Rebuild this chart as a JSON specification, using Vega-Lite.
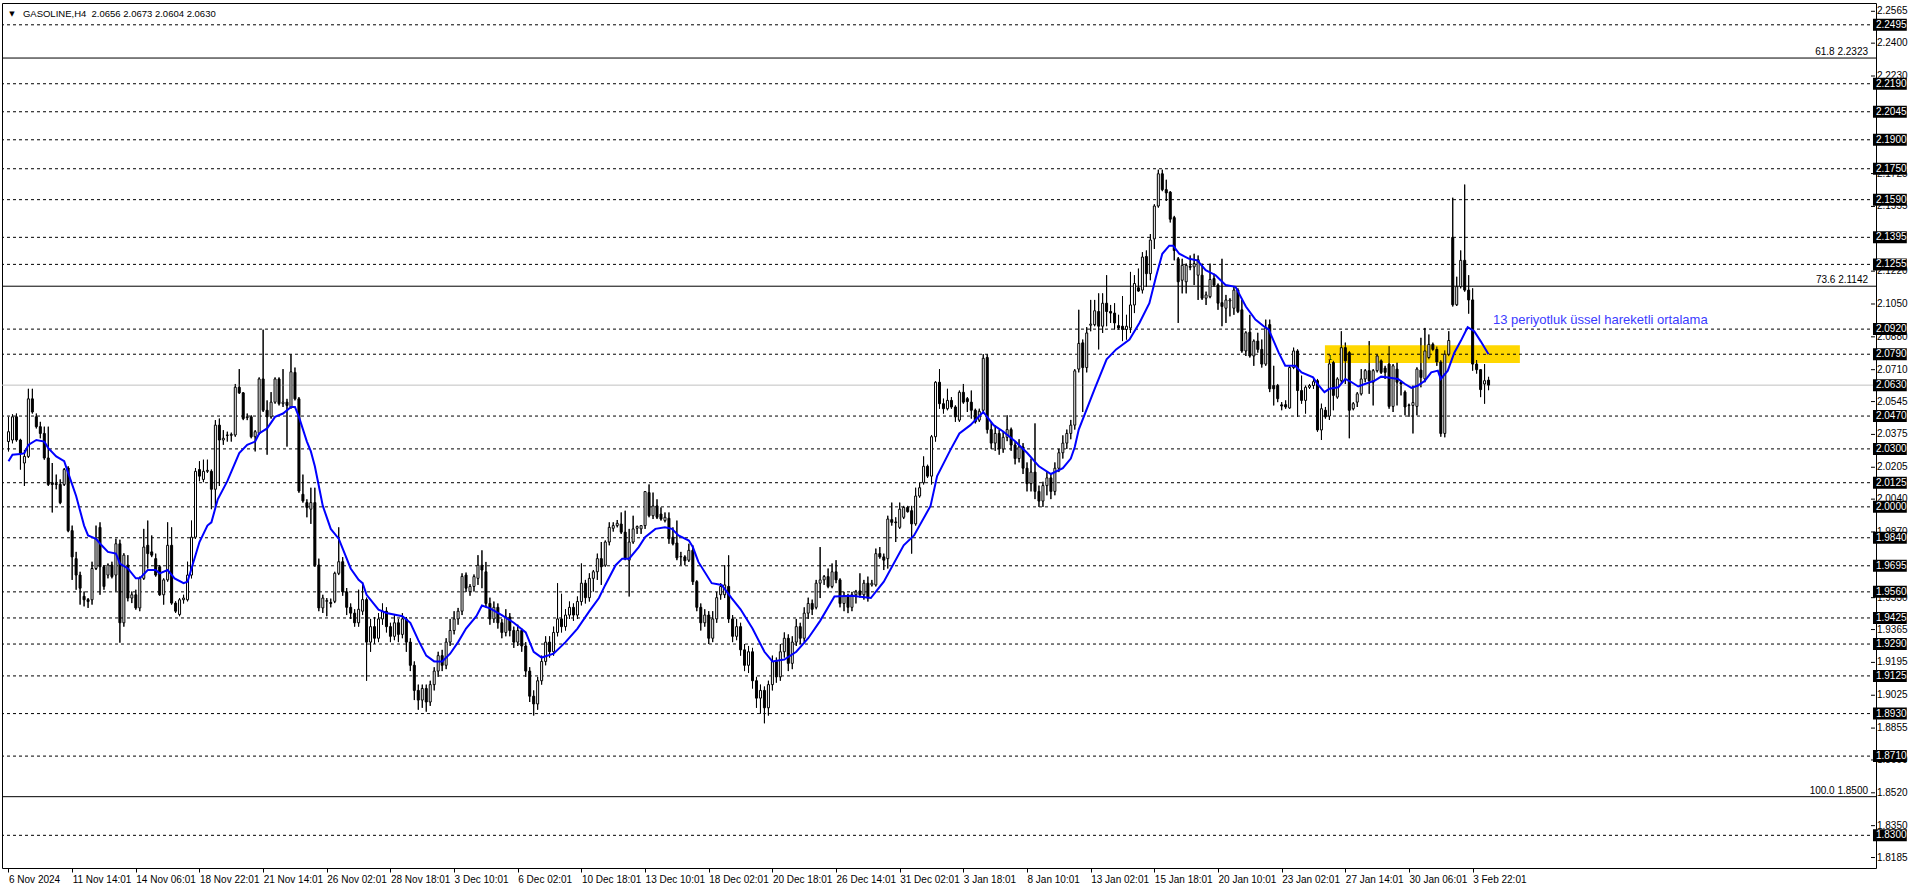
{
"$schema":"https://vega.github.io/schema/vega-lite/v6.json",
"width":1874,"height":865,
"autosize":{"type":"none"},
"padding":{"left":2,"top":3,"right":40,"bottom":20},
"background":"white",
"config":{"view":{"stroke":"black","strokeWidth":1},"font":"Liberation Sans"},
"datasets":{
"bars":[
{"i":0,"o":2.0338,"h":2.0466,"l":2.0287,"c":2.0389},{"i":1,"o":2.0346,"h":2.0479,"l":2.0329,"c":2.0466},{"i":2,"o":2.0466,"h":2.0483,"l":2.0338,"c":2.0346},{"i":3,"o":2.0346,"h":2.0352,"l":2.0193,"c":2.0278},{"i":4,"o":2.0227,"h":2.0295,"l":2.0108,"c":2.0261},{"i":5,"o":2.0261,"h":2.0611,"l":2.0253,"c":2.0559},{"i":6,"o":2.0559,"h":2.0611,"l":2.0483,"c":2.0491},{"i":7,"o":2.0466,"h":2.0483,"l":2.0406,"c":2.0415},{"i":8,"o":2.0415,"h":2.044,"l":2.0355,"c":2.038},{"i":9,"o":2.038,"h":2.0415,"l":2.0244,"c":2.0253},
{"i":10,"o":2.0253,"h":2.0415,"l":2.0108,"c":2.0116},{"i":11,"o":2.0125,"h":2.0227,"l":1.9971,"c":2.0116},{"i":12,"o":2.012,"h":2.0167,"l":2.0091,"c":2.0116},{"i":13,"o":2.0116,"h":2.0142,"l":2.0014,"c":2.0022},{"i":14,"o":2.0116,"h":2.0201,"l":2.0108,"c":2.0193},{"i":15,"o":2.0201,"h":2.021,"l":1.9869,"c":1.9877},{"i":16,"o":1.9877,"h":1.9903,"l":1.9622,"c":1.9741},{"i":17,"o":1.9732,"h":1.9767,"l":1.9571,"c":1.9647},{"i":18,"o":1.9647,"h":1.9664,"l":1.9494,"c":1.9579},{"i":19,"o":1.9537,"h":1.9562,"l":1.9485,"c":1.9519},
{"i":20,"o":1.952,"h":1.9528,"l":1.9477,"c":1.951},{"i":21,"o":1.9519,"h":1.9716,"l":1.9494,"c":1.9681},{"i":22,"o":1.9681,"h":1.9903,"l":1.9673,"c":1.9835},{"i":23,"o":1.9894,"h":1.992,"l":1.9545,"c":1.969},{"i":24,"o":1.969,"h":1.9699,"l":1.9571,"c":1.9588},{"i":25,"o":1.9647,"h":1.9707,"l":1.963,"c":1.9699},{"i":26,"o":1.9699,"h":1.9716,"l":1.963,"c":1.9639},{"i":27,"o":1.9647,"h":1.9835,"l":1.9562,"c":1.9809},{"i":28,"o":1.9809,"h":1.983,"l":1.9297,"c":1.94},{"i":29,"o":1.94,"h":1.976,"l":1.938,"c":1.975},
{"i":30,"o":1.9699,"h":1.975,"l":1.9511,"c":1.9528},{"i":31,"o":1.9528,"h":1.9562,"l":1.9502,"c":1.9545},{"i":32,"o":1.9545,"h":1.9571,"l":1.9468,"c":1.9477},{"i":33,"o":1.9477,"h":1.9639,"l":1.946,"c":1.963},{"i":34,"o":1.963,"h":1.9886,"l":1.9622,"c":1.9792},{"i":35,"o":1.9801,"h":1.9929,"l":1.9681,"c":1.9758},{"i":36,"o":1.9767,"h":1.9852,"l":1.974,"c":1.975},{"i":37,"o":1.9732,"h":1.9758,"l":1.9639,"c":1.9647},{"i":38,"o":1.969,"h":1.9699,"l":1.954,"c":1.9545},{"i":39,"o":1.9545,"h":1.963,"l":1.9494,"c":1.9622},
{"i":40,"o":1.9622,"h":1.992,"l":1.9613,"c":1.9801},{"i":41,"o":1.9801,"h":1.9894,"l":1.9494,"c":1.9502},{"i":42,"o":1.9502,"h":1.9511,"l":1.9451,"c":1.946},{"i":43,"o":1.9443,"h":1.9528,"l":1.9434,"c":1.9519},{"i":44,"o":1.9519,"h":1.9545,"l":1.95,"c":1.9528},{"i":45,"o":1.9519,"h":1.9716,"l":1.9511,"c":1.9647},{"i":46,"o":1.9647,"h":1.9929,"l":1.963,"c":1.9843},{"i":47,"o":1.9843,"h":2.0201,"l":1.9835,"c":2.0184},{"i":48,"o":2.0193,"h":2.0236,"l":2.0133,"c":2.0159},{"i":49,"o":2.0142,"h":2.0244,"l":2.0128,"c":2.0184},
{"i":50,"o":2.0184,"h":2.0244,"l":2.0176,"c":2.0189},{"i":51,"o":2.0184,"h":2.0193,"l":1.9988,"c":2.0091},{"i":52,"o":2.0091,"h":2.0449,"l":1.9997,"c":2.0423},{"i":53,"o":2.0423,"h":2.0457,"l":2.0108,"c":2.0346},{"i":54,"o":2.0346,"h":2.0397,"l":2.0321,"c":2.0355},{"i":55,"o":2.0372,"h":2.0389,"l":2.0338,"c":2.037},{"i":56,"o":2.037,"h":2.0384,"l":2.0338,"c":2.0375},{"i":57,"o":2.0372,"h":2.0636,"l":2.0363,"c":2.0619},{"i":58,"o":2.0619,"h":2.0713,"l":2.0585,"c":2.059},{"i":59,"o":2.059,"h":2.0594,"l":2.0449,"c":2.0457},
{"i":60,"o":2.0462,"h":2.0483,"l":2.0449,"c":2.0466},{"i":61,"o":2.0466,"h":2.0474,"l":2.0355,"c":2.0363},{"i":62,"o":2.0363,"h":2.0397,"l":2.0287,"c":2.0389},{"i":63,"o":2.038,"h":2.067,"l":2.0372,"c":2.0662},{"i":64,"o":2.0662,"h":2.0917,"l":2.0491,"c":2.05},{"i":65,"o":2.05,"h":2.0551,"l":2.027,"c":2.0466},{"i":66,"o":2.0466,"h":2.0594,"l":2.0457,"c":2.0542},{"i":67,"o":2.0542,"h":2.067,"l":2.0534,"c":2.0662},{"i":68,"o":2.0662,"h":2.067,"l":2.0525,"c":2.0534},{"i":69,"o":2.0534,"h":2.0713,"l":2.0517,"c":2.0542},
{"i":70,"o":2.0542,"h":2.0559,"l":2.0312,"c":2.0525},{"i":71,"o":2.0517,"h":2.079,"l":2.0508,"c":2.0699},{"i":72,"o":2.0696,"h":2.0721,"l":2.0551,"c":2.0559},{"i":73,"o":2.0559,"h":2.0568,"l":2.0073,"c":2.0082},{"i":74,"o":2.0065,"h":2.0167,"l":2.0022,"c":2.0031},{"i":75,"o":2.0022,"h":2.0039,"l":1.9946,"c":1.9997},{"i":76,"o":1.9988,"h":2.0099,"l":1.9912,"c":2.0022},{"i":77,"o":2.0022,"h":2.0099,"l":1.969,"c":1.9699},{"i":78,"o":1.9699,"h":1.9732,"l":1.946,"c":1.9477},{"i":79,"o":1.9477,"h":1.9545,"l":1.9451,"c":1.9528},
{"i":80,"o":1.9511,"h":1.9528,"l":1.9434,"c":1.9515},{"i":81,"o":1.9505,"h":1.9525,"l":1.948,"c":1.95},{"i":82,"o":1.9511,"h":1.9664,"l":1.9502,"c":1.9656},{"i":83,"o":1.9656,"h":1.9894,"l":1.9647,"c":1.9716},{"i":84,"o":1.9716,"h":1.974,"l":1.954,"c":1.956},{"i":85,"o":1.956,"h":1.958,"l":1.944,"c":1.948},{"i":86,"o":1.948,"h":1.95,"l":1.942,"c":1.945},{"i":87,"o":1.945,"h":1.947,"l":1.938,"c":1.94},{"i":88,"o":1.94,"h":1.9571,"l":1.938,"c":1.947},{"i":89,"o":1.946,"h":1.961,"l":1.944,"c":1.952},
{"i":90,"o":1.952,"h":1.953,"l":1.91,"c":1.93},{"i":91,"o":1.93,"h":1.942,"l":1.925,"c":1.938},{"i":92,"o":1.938,"h":1.943,"l":1.929,"c":1.932},{"i":93,"o":1.932,"h":1.945,"l":1.93,"c":1.942},{"i":94,"o":1.942,"h":1.95,"l":1.939,"c":1.946},{"i":95,"o":1.946,"h":1.948,"l":1.935,"c":1.938},{"i":96,"o":1.938,"h":1.94,"l":1.93,"c":1.933},{"i":97,"o":1.933,"h":1.944,"l":1.931,"c":1.94},{"i":98,"o":1.94,"h":1.942,"l":1.93,"c":1.934},{"i":99,"o":1.934,"h":1.945,"l":1.932,"c":1.942},
{"i":100,"o":1.942,"h":1.943,"l":1.925,"c":1.93},{"i":101,"o":1.93,"h":1.932,"l":1.915,"c":1.918},{"i":102,"o":1.918,"h":1.92,"l":1.9,"c":1.905},{"i":103,"o":1.905,"h":1.908,"l":1.895,"c":1.9},{"i":104,"o":1.9,"h":1.908,"l":1.896,"c":1.906},{"i":105,"o":1.906,"h":1.908,"l":1.894,"c":1.899},{"i":106,"o":1.899,"h":1.91,"l":1.897,"c":1.908},{"i":107,"o":1.908,"h":1.917,"l":1.905,"c":1.915},{"i":108,"o":1.915,"h":1.925,"l":1.912,"c":1.923},{"i":109,"o":1.923,"h":1.926,"l":1.915,"c":1.918},
{"i":110,"o":1.918,"h":1.932,"l":1.916,"c":1.93},{"i":111,"o":1.93,"h":1.942,"l":1.928,"c":1.936},{"i":112,"o":1.936,"h":1.946,"l":1.934,"c":1.942},{"i":113,"o":1.942,"h":1.9477,"l":1.939,"c":1.946},{"i":114,"o":1.946,"h":1.9656,"l":1.944,"c":1.964},{"i":115,"o":1.9647,"h":1.966,"l":1.956,"c":1.9579},{"i":116,"o":1.9562,"h":1.96,"l":1.954,"c":1.9588},{"i":117,"o":1.9588,"h":1.965,"l":1.9562,"c":1.9639},{"i":118,"o":1.963,"h":1.975,"l":1.9596,"c":1.9698},{"i":119,"o":1.9698,"h":1.9775,"l":1.9579,"c":1.9673},
{"i":120,"o":1.9664,"h":1.9715,"l":1.948,"c":1.95},{"i":121,"o":1.95,"h":1.953,"l":1.939,"c":1.942},{"i":122,"o":1.942,"h":1.951,"l":1.94,"c":1.948},{"i":123,"o":1.948,"h":1.95,"l":1.937,"c":1.94},{"i":124,"o":1.94,"h":1.942,"l":1.932,"c":1.935},{"i":125,"o":1.935,"h":1.947,"l":1.933,"c":1.943},{"i":126,"o":1.943,"h":1.945,"l":1.933,"c":1.936},{"i":127,"o":1.936,"h":1.938,"l":1.927,"c":1.93},{"i":128,"o":1.93,"h":1.939,"l":1.928,"c":1.936},{"i":129,"o":1.936,"h":1.937,"l":1.925,"c":1.928},
{"i":130,"o":1.928,"h":1.93,"l":1.912,"c":1.915},{"i":131,"o":1.915,"h":1.917,"l":1.899,"c":1.902},{"i":132,"o":1.902,"h":1.905,"l":1.892,"c":1.898},{"i":133,"o":1.898,"h":1.912,"l":1.895,"c":1.91},{"i":134,"o":1.91,"h":1.923,"l":1.908,"c":1.92},{"i":135,"o":1.92,"h":1.933,"l":1.918,"c":1.93},{"i":136,"o":1.93,"h":1.933,"l":1.922,"c":1.925},{"i":137,"o":1.925,"h":1.938,"l":1.923,"c":1.935},{"i":138,"o":1.935,"h":1.9605,"l":1.933,"c":1.942},{"i":139,"o":1.942,"h":1.955,"l":1.935,"c":1.938},
{"i":140,"o":1.938,"h":1.947,"l":1.936,"c":1.944},{"i":141,"o":1.944,"h":1.951,"l":1.942,"c":1.948},{"i":142,"o":1.948,"h":1.95,"l":1.941,"c":1.944},{"i":143,"o":1.944,"h":1.9536,"l":1.942,"c":1.951},{"i":144,"o":1.951,"h":1.9707,"l":1.949,"c":1.9605},{"i":145,"o":1.9605,"h":1.9622,"l":1.95,"c":1.953},{"i":146,"o":1.953,"h":1.9656,"l":1.951,"c":1.963},{"i":147,"o":1.963,"h":1.9673,"l":1.9562,"c":1.9664},{"i":148,"o":1.9664,"h":1.9758,"l":1.9622,"c":1.9732},{"i":149,"o":1.9732,"h":1.9818,"l":1.9596,"c":1.969},
{"i":150,"o":1.9698,"h":1.9826,"l":1.969,"c":1.9818},{"i":151,"o":1.9818,"h":1.992,"l":1.9801,"c":1.9894},{"i":152,"o":1.9889,"h":1.992,"l":1.9872,"c":1.9903},{"i":153,"o":1.9903,"h":1.9932,"l":1.9894,"c":1.9915},{"i":154,"o":1.9911,"h":1.9971,"l":1.986,"c":1.9869},{"i":155,"o":1.9869,"h":1.998,"l":1.9724,"c":1.9732},{"i":156,"o":1.9724,"h":1.9886,"l":1.9536,"c":1.9818},{"i":157,"o":1.9818,"h":1.9954,"l":1.9809,"c":1.9886},{"i":158,"o":1.9889,"h":1.9903,"l":1.986,"c":1.9898},{"i":159,"o":1.9886,"h":1.9903,"l":1.986,"c":1.9903},
{"i":160,"o":1.9903,"h":2.0082,"l":1.9886,"c":2.0079},{"i":161,"o":2.0074,"h":2.0116,"l":1.9946,"c":1.9954},{"i":162,"o":1.9954,"h":2.0074,"l":1.9937,"c":2.0005},{"i":163,"o":2.0005,"h":2.0039,"l":1.9937,"c":1.9946},{"i":164,"o":1.9963,"h":1.9997,"l":1.9929,"c":1.9937},{"i":165,"o":1.9929,"h":1.9971,"l":1.992,"c":1.9946},{"i":166,"o":1.9941,"h":1.9971,"l":1.9809,"c":1.9835},{"i":167,"o":1.9843,"h":1.9894,"l":1.9801,"c":1.9809},{"i":168,"o":1.9813,"h":1.9929,"l":1.9724,"c":1.9736},{"i":169,"o":1.9741,"h":1.9767,"l":1.9698,"c":1.9743},
{"i":170,"o":1.9741,"h":1.9749,"l":1.9698,"c":1.9721},{"i":171,"o":1.9724,"h":1.9809,"l":1.9715,"c":1.9775},{"i":172,"o":1.9775,"h":1.9801,"l":1.9596,"c":1.9613},{"i":173,"o":1.9613,"h":1.962,"l":1.946,"c":1.948},{"i":174,"o":1.948,"h":1.95,"l":1.936,"c":1.94},{"i":175,"o":1.94,"h":1.947,"l":1.938,"c":1.944},{"i":176,"o":1.944,"h":1.946,"l":1.929,"c":1.932},{"i":177,"o":1.932,"h":1.946,"l":1.93,"c":1.942},{"i":178,"o":1.942,"h":1.956,"l":1.94,"c":1.953},{"i":179,"o":1.9545,"h":1.9605,"l":1.952,"c":1.9588},
{"i":180,"o":1.9545,"h":1.9698,"l":1.9528,"c":1.9596},{"i":181,"o":1.9588,"h":1.9749,"l":1.94,"c":1.942},{"i":182,"o":1.942,"h":1.944,"l":1.93,"c":1.933},{"i":183,"o":1.933,"h":1.942,"l":1.931,"c":1.938},{"i":184,"o":1.938,"h":1.94,"l":1.923,"c":1.926},{"i":185,"o":1.926,"h":1.929,"l":1.915,"c":1.918},{"i":186,"o":1.918,"h":1.928,"l":1.914,"c":1.925},{"i":187,"o":1.925,"h":1.927,"l":1.906,"c":1.91},{"i":188,"o":1.91,"h":1.912,"l":1.896,"c":1.901},{"i":189,"o":1.901,"h":1.908,"l":1.893,"c":1.905},
{"i":190,"o":1.905,"h":1.907,"l":1.888,"c":1.896},{"i":191,"o":1.896,"h":1.91,"l":1.892,"c":1.908},{"i":192,"o":1.908,"h":1.923,"l":1.905,"c":1.92},{"i":193,"o":1.92,"h":1.922,"l":1.909,"c":1.912},{"i":194,"o":1.912,"h":1.929,"l":1.91,"c":1.925},{"i":195,"o":1.925,"h":1.935,"l":1.922,"c":1.932},{"i":196,"o":1.932,"h":1.934,"l":1.915,"c":1.919},{"i":197,"o":1.919,"h":1.933,"l":1.916,"c":1.93},{"i":198,"o":1.93,"h":1.942,"l":1.928,"c":1.938},{"i":199,"o":1.938,"h":1.94,"l":1.929,"c":1.932},
{"i":200,"o":1.932,"h":1.948,"l":1.93,"c":1.945},{"i":201,"o":1.945,"h":1.953,"l":1.942,"c":1.95},{"i":202,"o":1.95,"h":1.952,"l":1.944,"c":1.947},{"i":203,"o":1.948,"h":1.9622,"l":1.947,"c":1.9605},{"i":204,"o":1.9605,"h":1.9792,"l":1.9528,"c":1.9622},{"i":205,"o":1.9622,"h":1.9647,"l":1.9596,"c":1.9639},{"i":206,"o":1.9639,"h":1.9681,"l":1.9579,"c":1.9588},{"i":207,"o":1.9588,"h":1.9707,"l":1.9579,"c":1.9664},{"i":208,"o":1.9664,"h":1.9724,"l":1.9605,"c":1.9622},{"i":209,"o":1.9622,"h":1.963,"l":1.948,"c":1.95},
{"i":210,"o":1.95,"h":1.956,"l":1.946,"c":1.954},{"i":211,"o":1.954,"h":1.955,"l":1.945,"c":1.948},{"i":212,"o":1.948,"h":1.956,"l":1.946,"c":1.9545},{"i":213,"o":1.9545,"h":1.957,"l":1.95,"c":1.956},{"i":214,"o":1.9565,"h":1.9656,"l":1.953,"c":1.9545},{"i":215,"o":1.9545,"h":1.9622,"l":1.952,"c":1.9605},{"i":216,"o":1.9605,"h":1.9639,"l":1.951,"c":1.9528},{"i":217,"o":1.9596,"h":1.9622,"l":1.9588,"c":1.9605},{"i":218,"o":1.9596,"h":1.9784,"l":1.9588,"c":1.9758},{"i":219,"o":1.9758,"h":1.9792,"l":1.9732,"c":1.9741},
{"i":220,"o":1.9741,"h":1.9758,"l":1.9673,"c":1.9724},{"i":221,"o":1.9732,"h":1.9954,"l":1.9681,"c":1.9937},{"i":222,"o":1.9934,"h":2.0022,"l":1.9903,"c":1.992},{"i":223,"o":1.9922,"h":1.9946,"l":1.9818,"c":1.9918},{"i":224,"o":1.9894,"h":2.0022,"l":1.9886,"c":1.9988},{"i":225,"o":1.9946,"h":2.0005,"l":1.9937,"c":1.9997},{"i":226,"o":1.9997,"h":2.0005,"l":1.9971,"c":1.9975},{"i":227,"o":1.998,"h":2.0005,"l":1.9758,"c":1.9912},{"i":228,"o":1.9912,"h":2.0099,"l":1.9903,"c":2.0056},{"i":229,"o":2.0056,"h":2.0125,"l":2.0048,"c":2.0099},
{"i":230,"o":2.0125,"h":2.0261,"l":2.0116,"c":2.021},{"i":231,"o":2.021,"h":2.0218,"l":2.015,"c":2.0159},{"i":232,"o":2.0159,"h":2.0372,"l":2.0116,"c":2.0363},{"i":233,"o":2.0363,"h":2.065,"l":2.0338,"c":2.0645},{"i":234,"o":2.0645,"h":2.0713,"l":2.0508,"c":2.0534},{"i":235,"o":2.0534,"h":2.056,"l":2.0483,"c":2.0508},{"i":236,"o":2.0508,"h":2.0611,"l":2.05,"c":2.0551},{"i":237,"o":2.0551,"h":2.0568,"l":2.0508,"c":2.0517},{"i":238,"o":2.0517,"h":2.0525,"l":2.044,"c":2.0466},{"i":239,"o":2.0449,"h":2.0602,"l":2.044,"c":2.0593},
{"i":240,"o":2.0593,"h":2.0636,"l":2.0534,"c":2.0542},{"i":241,"o":2.056,"h":2.0568,"l":2.0491,"c":2.0545},{"i":242,"o":2.0542,"h":2.0602,"l":2.0457,"c":2.05},{"i":243,"o":2.05,"h":2.0508,"l":2.0432,"c":2.044},{"i":244,"o":2.0449,"h":2.0508,"l":2.044,"c":2.0495},{"i":245,"o":2.05,"h":2.079,"l":2.0491,"c":2.0769},{"i":246,"o":2.0773,"h":2.079,"l":2.038,"c":2.04},{"i":247,"o":2.04,"h":2.044,"l":2.03,"c":2.033},{"i":248,"o":2.033,"h":2.042,"l":2.029,"c":2.038},{"i":249,"o":2.038,"h":2.04,"l":2.027,"c":2.03},
{"i":250,"o":2.03,"h":2.039,"l":2.028,"c":2.036},{"i":251,"o":2.036,"h":2.0474,"l":2.034,"c":2.04},{"i":252,"o":2.04,"h":2.041,"l":2.029,"c":2.032},{"i":253,"o":2.032,"h":2.034,"l":2.022,"c":2.025},{"i":254,"o":2.025,"h":2.035,"l":2.023,"c":2.031},{"i":255,"o":2.031,"h":2.033,"l":2.017,"c":2.02},{"i":256,"o":2.02,"h":2.023,"l":2.008,"c":2.012},{"i":257,"o":2.012,"h":2.025,"l":2.008,"c":2.018},{"i":258,"o":2.018,"h":2.0432,"l":2.004,"c":2.008},{"i":259,"o":2.008,"h":2.011,"l":2.0,"c":2.003},
{"i":260,"o":2.003,"h":2.013,"l":2.0,"c":2.011},{"i":261,"o":2.011,"h":2.018,"l":2.006,"c":2.015},{"i":262,"o":2.015,"h":2.017,"l":2.004,"c":2.008},{"i":263,"o":2.008,"h":2.023,"l":2.006,"c":2.02},{"i":264,"o":2.02,"h":2.03,"l":2.018,"c":2.028},{"i":265,"o":2.028,"h":2.037,"l":2.025,"c":2.033},{"i":266,"o":2.033,"h":2.04,"l":2.03,"c":2.038},{"i":267,"o":2.038,"h":2.045,"l":2.035,"c":2.0423},{"i":268,"o":2.0423,"h":2.0713,"l":2.04,"c":2.0704},{"i":269,"o":2.0713,"h":2.102,"l":2.0696,"c":2.0846},
{"i":270,"o":2.0849,"h":2.0866,"l":2.0491,"c":2.0721},{"i":271,"o":2.0721,"h":2.093,"l":2.0696,"c":2.09},{"i":272,"o":2.094,"h":2.1071,"l":2.0909,"c":2.0946},{"i":273,"o":2.0943,"h":2.1071,"l":2.0935,"c":2.1015},{"i":274,"o":2.1011,"h":2.1105,"l":2.0815,"c":2.0935},{"i":275,"o":2.0935,"h":2.1105,"l":2.09,"c":2.1054},{"i":276,"o":2.1054,"h":2.1199,"l":2.0935,"c":2.1011},{"i":277,"o":2.1011,"h":2.1045,"l":2.0952,"c":2.1003},{"i":278,"o":2.1003,"h":2.1054,"l":2.0918,"c":2.0952},{"i":279,"o":2.0938,"h":2.0994,"l":2.0918,"c":2.0926},
{"i":280,"o":2.0935,"h":2.1091,"l":2.0858,"c":2.0918},{"i":281,"o":2.0918,"h":2.0994,"l":2.0866,"c":2.0935},{"i":282,"o":2.0926,"h":2.1216,"l":2.0901,"c":2.1045},{"i":283,"o":2.1045,"h":2.1199,"l":2.1003,"c":2.1156},{"i":284,"o":2.1134,"h":2.1233,"l":2.1114,"c":2.1117},{"i":285,"o":2.1122,"h":2.1318,"l":2.1105,"c":2.1293},{"i":286,"o":2.1296,"h":2.1327,"l":2.1139,"c":2.1207},{"i":287,"o":2.1207,"h":2.1412,"l":2.1173,"c":2.1381},{"i":288,"o":2.1387,"h":2.1566,"l":2.1335,"c":2.1557},{"i":289,"o":2.1557,"h":2.1745,"l":2.1549,"c":2.1724},
{"i":290,"o":2.1724,"h":2.1745,"l":2.1634,"c":2.1642},{"i":291,"o":2.1642,"h":2.1693,"l":2.1583,"c":2.1625},{"i":292,"o":2.1629,"h":2.1634,"l":2.1472,"c":2.1489},{"i":293,"o":2.1497,"h":2.1506,"l":2.1276,"c":2.1327},{"i":294,"o":2.1284,"h":2.1293,"l":2.0952,"c":2.1165},{"i":295,"o":2.1173,"h":2.1284,"l":2.1105,"c":2.125},{"i":296,"o":2.1165,"h":2.1259,"l":2.1105,"c":2.125},{"i":297,"o":2.1245,"h":2.1301,"l":2.1225,"c":2.124},{"i":298,"o":2.1242,"h":2.131,"l":2.1148,"c":2.1259},{"i":299,"o":2.1199,"h":2.1301,"l":2.1071,"c":2.1279},
{"i":300,"o":2.1199,"h":2.1259,"l":2.1071,"c":2.108},{"i":301,"o":2.108,"h":2.1114,"l":2.1045,"c":2.1097},{"i":302,"o":2.1088,"h":2.1259,"l":2.108,"c":2.1177},{"i":303,"o":2.1182,"h":2.1207,"l":2.1139,"c":2.1148},{"i":304,"o":2.1148,"h":2.1156,"l":2.102,"c":2.1054},{"i":305,"o":2.1057,"h":2.1284,"l":2.0935,"c":2.1037},{"i":306,"o":2.1028,"h":2.1097,"l":2.0952,"c":2.1071},{"i":307,"o":2.1066,"h":2.108,"l":2.0986,"c":2.1071},{"i":308,"o":2.1028,"h":2.1139,"l":2.0994,"c":2.1122},{"i":309,"o":2.1122,"h":2.1131,"l":2.1003,"c":2.1011},
{"i":310,"o":2.102,"h":2.1071,"l":2.0798,"c":2.0807},{"i":311,"o":2.0807,"h":2.0909,"l":2.0781,"c":2.0901},{"i":312,"o":2.0904,"h":2.0994,"l":2.0773,"c":2.0781},{"i":313,"o":2.0781,"h":2.0866,"l":2.073,"c":2.0858},{"i":314,"o":2.0858,"h":2.0901,"l":2.0798,"c":2.0815},{"i":315,"o":2.0815,"h":2.0866,"l":2.0721,"c":2.0739},{"i":316,"o":2.0739,"h":2.0969,"l":2.073,"c":2.0926},{"i":317,"o":2.0943,"h":2.0969,"l":2.0594,"c":2.0611},{"i":318,"o":2.0628,"h":2.073,"l":2.0525,"c":2.0611},{"i":319,"o":2.0628,"h":2.0636,"l":2.0542,"c":2.056},
{"i":320,"o":2.0528,"h":2.0542,"l":2.05,"c":2.0522},{"i":321,"o":2.0529,"h":2.0551,"l":2.0508,"c":2.0517},{"i":322,"o":2.0512,"h":2.073,"l":2.0508,"c":2.0721},{"i":323,"o":2.0721,"h":2.0824,"l":2.0713,"c":2.0807},{"i":324,"o":2.0807,"h":2.0815,"l":2.0466,"c":2.0602},{"i":325,"o":2.0602,"h":2.0679,"l":2.0534,"c":2.0551},{"i":326,"o":2.0551,"h":2.0628,"l":2.0483,"c":2.0619},{"i":327,"o":2.0619,"h":2.0636,"l":2.0611,"c":2.0628},{"i":328,"o":2.0628,"h":2.067,"l":2.0611,"c":2.0648},{"i":329,"o":2.0653,"h":2.0662,"l":2.0389,"c":2.0398},
{"i":330,"o":2.0398,"h":2.0534,"l":2.0346,"c":2.0508},{"i":331,"o":2.05,"h":2.0517,"l":2.0457,"c":2.0466},{"i":332,"o":2.047,"h":2.076,"l":2.045,"c":2.074},{"i":333,"o":2.0747,"h":2.0756,"l":2.05,"c":2.0577},{"i":334,"o":2.0568,"h":2.067,"l":2.056,"c":2.0662},{"i":335,"o":2.0653,"h":2.0909,"l":2.0636,"c":2.0824},{"i":336,"o":2.0824,"h":2.085,"l":2.0636,"c":2.0756},{"i":337,"o":2.0798,"h":2.0807,"l":2.0355,"c":2.05},{"i":338,"o":2.0508,"h":2.0542,"l":2.05,"c":2.0534},{"i":339,"o":2.0542,"h":2.0594,"l":2.0517,"c":2.0585},
{"i":340,"o":2.0585,"h":2.0713,"l":2.0577,"c":2.0662},{"i":341,"o":2.0662,"h":2.0713,"l":2.0645,"c":2.0705},{"i":342,"o":2.0705,"h":2.0858,"l":2.0585,"c":2.0653},{"i":343,"o":2.0645,"h":2.0713,"l":2.0525,"c":2.0705},{"i":344,"o":2.0705,"h":2.079,"l":2.0696,"c":2.0781},{"i":345,"o":2.0756,"h":2.0764,"l":2.0688,"c":2.0696},{"i":346,"o":2.0718,"h":2.073,"l":2.0662,"c":2.0696},{"i":347,"o":2.0739,"h":2.0832,"l":2.0508,"c":2.052},{"i":348,"o":2.052,"h":2.0739,"l":2.0491,"c":2.073},{"i":349,"o":2.0713,"h":2.0747,"l":2.0525,"c":2.0645},
{"i":350,"o":2.0645,"h":2.0653,"l":2.0577,"c":2.0636},{"i":351,"o":2.0594,"h":2.0602,"l":2.0474,"c":2.0517},{"i":352,"o":2.0527,"h":2.0534,"l":2.0466,"c":2.0525},{"i":353,"o":2.0525,"h":2.0628,"l":2.038,"c":2.054},{"i":354,"o":2.052,"h":2.0722,"l":2.0474,"c":2.0713},{"i":355,"o":2.0708,"h":2.0875,"l":2.0619,"c":2.067},{"i":356,"o":2.0662,"h":2.0926,"l":2.0645,"c":2.0807},{"i":357,"o":2.0773,"h":2.0892,"l":2.0764,"c":2.0841},{"i":358,"o":2.0841,"h":2.085,"l":2.0806,"c":2.0815},{"i":359,"o":2.0815,"h":2.083,"l":2.073,"c":2.075},
{"i":360,"o":2.075,"h":2.076,"l":2.0363,"c":2.038},{"i":361,"o":2.038,"h":2.081,"l":2.036,"c":2.079},{"i":362,"o":2.079,"h":2.0909,"l":2.078,"c":2.0861},{"i":363,"o":2.1395,"h":2.16,"l":2.1037,"c":2.1046},{"i":364,"o":2.1046,"h":2.1191,"l":2.104,"c":2.114},{"i":365,"o":2.114,"h":2.1327,"l":2.1131,"c":2.1276},{"i":366,"o":2.1276,"h":2.1668,"l":2.1114,"c":2.1122},{"i":367,"o":2.1122,"h":2.1199,"l":2.1,"c":2.1071},{"i":368,"o":2.1071,"h":2.1131,"l":2.0705,"c":2.0739},{"i":369,"o":2.0739,"h":2.076,"l":2.069,"c":2.071},
{"i":370,"o":2.071,"h":2.0713,"l":2.0568,"c":2.0607},{"i":371,"o":2.0636,"h":2.0739,"l":2.0534,"c":2.0653},{"i":372,"o":2.0656,"h":2.0673,"l":2.0604,"c":2.063}
],
"ema":[
{"i":0,"v":2.0236},{"i":1,"v":2.027},{"i":3,"v":2.0273},{"i":4,"v":2.0278},{"i":5,"v":2.0321},{"i":7,"v":2.0346},{"i":9,"v":2.0338},{"i":10,"v":2.0304},{"i":12,"v":2.0261},{"i":14,"v":2.0236},{"i":15,"v":2.0176},{"i":17,"v":2.0056},{"i":19,"v":1.9903},{"i":20,"v":1.9852},{"i":22,"v":1.9835},{"i":23.4,"v":1.9801},{"i":25,"v":1.9767},{"i":27,"v":1.9758},{"i":28,"v":1.9707},{"i":30,"v":1.9681},{"i":32,"v":1.963},{"i":33,"v":1.963},{"i":35,"v":1.9673},{"i":37,"v":1.9673},{"i":38,"v":1.9656},{"i":40,"v":1.9673},{"i":41.75,"v":1.963},{"i":44,"v":1.9605},{"i":45,"v":1.9613},{"i":46,"v":1.9681},{"i":48,"v":1.9818},{"i":50,"v":1.9903},{"i":51,"v":1.992},{"i":52.6,"v":2.0039},{"i":55,"v":2.0133},{"i":58,"v":2.0278},{"i":60,"v":2.0321},{"i":62,"v":2.0338},{"i":63,"v":2.038},{"i":65,"v":2.0406},{"i":67,"v":2.0466},{"i":69,"v":2.0483},{"i":71,"v":2.0517},{"i":72,"v":2.0517},{"i":73,"v":2.0466},{"i":75,"v":2.0338},{"i":76,"v":2.0287},{"i":77,"v":2.021},{"i":78,"v":2.0108},{"i":79,"v":2.0005},{"i":81,"v":1.9886},{"i":83,"v":1.9835},{"i":84,"v":1.9784},{"i":86,"v":1.9681},{"i":88,"v":1.9622},{"i":89,"v":1.9605},{"i":90,"v":1.9545},{"i":93,"v":1.9468},{"i":95,"v":1.9451},{"i":99,"v":1.9434},{"i":101,"v":1.94},{"i":103,"v":1.931},{"i":105,"v":1.923},{"i":107,"v":1.92},{"i":109,"v":1.92},{"i":111,"v":1.924},{"i":113,"v":1.93},{"i":115,"v":1.937},{"i":117.6,"v":1.9434},{"i":119,"v":1.9489},{"i":121,"v":1.9475},{"i":124,"v":1.944},{"i":127,"v":1.94},{"i":130,"v":1.935},{"i":132,"v":1.925},{"i":134,"v":1.922},{"i":137,"v":1.924},{"i":140,"v":1.93},{"i":143,"v":1.937},{"i":146,"v":1.946},{"i":148.4,"v":1.9528},{"i":150,"v":1.9596},{"i":152.6,"v":1.9698},{"i":154.25,"v":1.9732},{"i":156,"v":1.9732},{"i":158.4,"v":1.9792},{"i":160,"v":1.9843},{"i":162.6,"v":1.9886},{"i":165,"v":1.9894},{"i":166.75,"v":1.9886},{"i":168.4,"v":1.9852},{"i":171,"v":1.9826},{"i":172,"v":1.9792},{"i":173.4,"v":1.9715},{"i":176.75,"v":1.9605},{"i":179.25,"v":1.9596},{"i":181.75,"v":1.9528},{"i":184,"v":1.947},{"i":187,"v":1.937},{"i":190,"v":1.925},{"i":192,"v":1.92},{"i":195,"v":1.921},{"i":198,"v":1.925},{"i":201,"v":1.932},{"i":204,"v":1.941},{"i":207.6,"v":1.9536},{"i":212,"v":1.954},{"i":216.75,"v":1.9528},{"i":220,"v":1.9613},{"i":225,"v":1.9801},{"i":227.6,"v":1.9852},{"i":231.75,"v":2.0005},{"i":233.4,"v":2.0159},{"i":236.75,"v":2.0295},{"i":239,"v":2.038},{"i":241.75,"v":2.0423},{"i":245,"v":2.0491},{"i":247.6,"v":2.0423},{"i":250,"v":2.039},{"i":253,"v":2.034},{"i":256,"v":2.028},{"i":259,"v":2.021},{"i":262,"v":2.017},{"i":265,"v":2.02},{"i":267,"v":2.025},{"i":268,"v":2.031},{"i":269,"v":2.04},{"i":273,"v":2.0611},{"i":276,"v":2.0764},{"i":278.4,"v":2.0815},{"i":281.75,"v":2.0866},{"i":284.25,"v":2.0952},{"i":286.75,"v":2.1054},{"i":288.4,"v":2.119},{"i":290,"v":2.131},{"i":291.75,"v":2.1352},{"i":292.75,"v":2.1352},{"i":294.25,"v":2.131},{"i":296.75,"v":2.1284},{"i":298.8,"v":2.1276},{"i":300.9,"v":2.1225},{"i":303.4,"v":2.1199},{"i":305.9,"v":2.1148},{"i":308.4,"v":2.1139},{"i":311,"v":2.1037},{"i":313.4,"v":2.0969},{"i":315.5,"v":2.0935},{"i":316.75,"v":2.0918},{"i":319.25,"v":2.0798},{"i":320.9,"v":2.073},{"i":323.4,"v":2.073},{"i":325,"v":2.0696},{"i":327.9,"v":2.067},{"i":329,"v":2.0636},{"i":330.75,"v":2.0594},{"i":332,"v":2.0611},{"i":334.25,"v":2.0619},{"i":336,"v":2.0662},{"i":337.6,"v":2.0645},{"i":339.25,"v":2.0623},{"i":340.9,"v":2.0636},{"i":343.4,"v":2.0653},{"i":345,"v":2.0674},{"i":346.75,"v":2.067},{"i":349.25,"v":2.0662},{"i":351,"v":2.0636},{"i":352.6,"v":2.0616},{"i":354.25,"v":2.0628},{"i":356,"v":2.0653},{"i":357.6,"v":2.0696},{"i":359.25,"v":2.0705},{"i":360,"v":2.0662},{"i":361.75,"v":2.0705},{"i":363.4,"v":2.0798},{"i":365,"v":2.0858},{"i":366.75,"v":2.093},{"i":368.4,"v":2.0909},{"i":370,"v":2.0858},{"i":372,"v":2.079}
],
"levels":[{"p":2.2495},{"p":2.219},{"p":2.2045},{"p":2.19},{"p":2.175},{"p":2.159},{"p":2.1395},{"p":2.1255},{"p":2.092},{"p":2.079},{"p":2.047},{"p":2.03},{"p":2.0125},{"p":2.0},{"p":1.984},{"p":1.9695},{"p":1.956},{"p":1.9425},{"p":1.929},{"p":1.9125},{"p":1.893},{"p":1.871},{"p":1.83}],
"tags":[{"p":2.2495},{"p":2.219},{"p":2.2045},{"p":2.19},{"p":2.175},{"p":2.159},{"p":2.1395},{"p":2.1255},{"p":2.092},{"p":2.079},{"p":2.063},{"p":2.047},{"p":2.03},{"p":2.0125},{"p":2.0},{"p":1.984},{"p":1.9695},{"p":1.956},{"p":1.9425},{"p":1.929},{"p":1.9125},{"p":1.893},{"p":1.871},{"p":1.83}],
"yt":[{"p":2.2565},{"p":2.24},{"p":2.223},{"p":2.1725},{"p":2.1555},{"p":2.122},{"p":2.105},{"p":2.088},{"p":2.071},{"p":2.0545},{"p":2.0375},{"p":2.0205},{"p":2.004},{"p":1.987},{"p":1.953},{"p":1.9365},{"p":1.9195},{"p":1.9025},{"p":1.8855},{"p":1.869},{"p":1.852},{"p":1.835},{"p":1.8185}],
"fib":[{"p":2.2323,"t":"61.8 2.2323"},{"p":2.1142,"t":"73.6 2.1142"},{"p":1.85,"t":"100.0 1.8500"}]
},
"layer":[
{"data":{"name":"bars"},"mark":{"type":"rule","color":"black","strokeWidth":1},
 "encoding":{
  "x":{"field":"i","type":"quantitative","scale":{"domain":[-0.375,468.125],"nice":false,"zero":false},
   "axis":{"values":[0,16,32,48,64,80,96,112,128,144,160,176,192,208,224,240,256,272,288,304,320,336,352,368],
    "labelExpr":"['6 Nov 2024','11 Nov 14:01','14 Nov 06:01','18 Nov 22:01','21 Nov 14:01','26 Nov 02:01','28 Nov 18:01','3 Dec 10:01','6 Dec 02:01','10 Dec 18:01','13 Dec 10:01','18 Dec 02:01','20 Dec 18:01','26 Dec 14:01','31 Dec 02:01','3 Jan 18:01','8 Jan 10:01','13 Jan 02:01','15 Jan 18:01','20 Jan 10:01','23 Jan 02:01','27 Jan 14:01','30 Jan 06:01','3 Feb 22:01'][round(datum.value/16)]",
    "title":null,"grid":false,"domain":false,"ticks":true,"tickSize":4,"tickColor":"black","labelAlign":"left","labelBaseline":"top","labelPadding":2,"labelFont":"Liberation Sans","labelFontSize":10,"labelColor":"black","labelOverlap":false,"labelFlush":false,"labelBound":false}},
  "y":{"field":"l","type":"quantitative","scale":{"domain":[1.81567,2.2582],"nice":false,"zero":false},"axis":null},
  "y2":{"field":"h"}}},
{"data":{"values":[{}]},"mark":{"type":"rect","color":"#FFD700"},
 "encoding":{"x":{"datum":330.875,"type":"quantitative","scale":{"domain":[-0.375,468.125],"nice":false,"zero":false}},"x2":{"datum":379.875},
  "y":{"datum":2.0837,"type":"quantitative","scale":{"domain":[1.81567,2.2582],"nice":false,"zero":false}},"y2":{"datum":2.0745}}},
{"data":{"name":"levels"},"mark":{"type":"rule","color":"black","strokeWidth":1,"strokeDash":[3,3]},
 "encoding":{"y":{"field":"p","type":"quantitative","scale":{"domain":[1.81567,2.2582],"nice":false,"zero":false}}}},
{"data":{"name":"fib"},"mark":{"type":"rule","color":"black","strokeWidth":1},
 "encoding":{"y":{"field":"p","type":"quantitative","scale":{"domain":[1.81567,2.2582],"nice":false,"zero":false}}}},
{"data":{"values":[{"p":2.063}]},"mark":{"type":"rule","color":"#c0c0c0","strokeWidth":1},
 "encoding":{"y":{"field":"p","type":"quantitative","scale":{"domain":[1.81567,2.2582],"nice":false,"zero":false}}}},
{"data":{"name":"bars"},"mark":{"type":"rule","color":"black","strokeWidth":1},
 "encoding":{
  "x":{"field":"i","type":"quantitative","scale":{"domain":[-0.375,468.125],"nice":false,"zero":false}},
  "y":{"field":"l","type":"quantitative","scale":{"domain":[1.81567,2.2582],"nice":false,"zero":false}},
  "y2":{"field":"h"}}},
{"data":{"name":"bars"},"mark":{"type":"bar","size":2,"stroke":"black","strokeWidth":1},
 "encoding":{
  "x":{"field":"i","type":"quantitative","scale":{"domain":[-0.375,468.125],"nice":false,"zero":false}},
  "y":{"field":"o","type":"quantitative","scale":{"domain":[1.81567,2.2582],"nice":false,"zero":false}},
  "y2":{"field":"c"},
  "fill":{"condition":{"test":"datum.c > datum.o","value":"white"},"value":"black"}}},
{"data":{"name":"ema"},"mark":{"type":"line","color":"#0000ff","strokeWidth":2},
 "encoding":{
  "x":{"field":"i","type":"quantitative","scale":{"domain":[-0.375,468.125],"nice":false,"zero":false}},
  "y":{"field":"v","type":"quantitative","scale":{"domain":[1.81567,2.2582],"nice":false,"zero":false}}}},
{"data":{"name":"fib"},"mark":{"type":"text","align":"right","baseline":"bottom","dy":-1,"font":"Liberation Sans","fontSize":10,"color":"black"},
 "encoding":{"x":{"datum":467.375,"type":"quantitative","scale":{"domain":[-0.375,468.125],"nice":false,"zero":false}},
  "y":{"field":"p","type":"quantitative","scale":{"domain":[1.81567,2.2582],"nice":false,"zero":false}},"text":{"field":"t"}}},
{"data":{"name":"yt"},"mark":{"type":"rule","color":"black","strokeWidth":1,"clip":false},
 "encoding":{"x":{"datum":468.125,"type":"quantitative","scale":{"domain":[-0.375,468.125],"nice":false,"zero":false}},"x2":{"datum":469.125},
  "y":{"field":"p","type":"quantitative","scale":{"domain":[1.81567,2.2582],"nice":false,"zero":false}}}},
{"data":{"name":"yt"},"mark":{"type":"text","align":"left","baseline":"middle","font":"Liberation Sans","fontSize":10,"color":"black","clip":false},
 "encoding":{"x":{"datum":469.625,"type":"quantitative","scale":{"domain":[-0.375,468.125],"nice":false,"zero":false}},
  "y":{"field":"p","type":"quantitative","scale":{"domain":[1.81567,2.2582],"nice":false,"zero":false}},
  "text":{"field":"p","type":"quantitative","format":".4f"}}},
{"data":{"name":"tags"},"mark":{"type":"bar","orient":"horizontal","size":12,"color":"black","clip":false},
 "encoding":{"x":{"datum":468.625,"type":"quantitative","scale":{"domain":[-0.375,468.125],"nice":false,"zero":false}},"x2":{"datum":477.125},
  "y":{"field":"p","type":"quantitative","scale":{"domain":[1.81567,2.2582],"nice":false,"zero":false}}}},
{"data":{"name":"tags"},"mark":{"type":"text","align":"left","baseline":"middle","font":"Liberation Sans","fontSize":10,"color":"white","clip":false},
 "encoding":{"x":{"datum":469.375,"type":"quantitative","scale":{"domain":[-0.375,468.125],"nice":false,"zero":false}},
  "y":{"field":"p","type":"quantitative","scale":{"domain":[1.81567,2.2582],"nice":false,"zero":false}},
  "text":{"field":"p","type":"quantitative","format":".4f"}}},
{"data":{"values":[{"t":"▼"}]},"mark":{"type":"text","align":"center","baseline":"middle","font":"DejaVu Sans","fontSize":7,"color":"black"},
 "encoding":{"x":{"datum":0.875,"type":"quantitative","scale":{"domain":[-0.375,468.125],"nice":false,"zero":false}},
  "y":{"datum":2.2551,"type":"quantitative","scale":{"domain":[1.81567,2.2582],"nice":false,"zero":false}},"text":{"field":"t"}}},
{"data":{"values":[{"t":"GASOLINE,H4\u00a0\u00a02.0656 2.0673 2.0604 2.0630"}]},"mark":{"type":"text","align":"left","baseline":"middle","font":"Liberation Sans","fontSize":9.5,"color":"black"},
 "encoding":{"x":{"datum":3.625,"type":"quantitative","scale":{"domain":[-0.375,468.125],"nice":false,"zero":false}},
  "y":{"datum":2.2551,"type":"quantitative","scale":{"domain":[1.81567,2.2582],"nice":false,"zero":false}},"text":{"field":"t"}}},
{"data":{"values":[{"t":"13 periyotluk üssel hareketli ortalama"}]},"mark":{"type":"text","align":"left","baseline":"middle","font":"Liberation Sans","fontSize":13,"color":"#3a3aff"},
 "encoding":{"x":{"datum":373.125,"type":"quantitative","scale":{"domain":[-0.375,468.125],"nice":false,"zero":false}},
  "y":{"datum":2.0965,"type":"quantitative","scale":{"domain":[1.81567,2.2582],"nice":false,"zero":false}},"text":{"field":"t"}}},
{"data":{"values":[{"t":"1"}]},"mark":{"type":"text","align":"left","baseline":"middle","font":"Liberation Sans","fontSize":8,"color":"black"},
 "encoding":{"x":{"datum":331.6,"type":"quantitative","scale":{"domain":[-0.375,468.125],"nice":false,"zero":false}},
  "y":{"datum":2.0771,"type":"quantitative","scale":{"domain":[1.81567,2.2582],"nice":false,"zero":false}},"text":{"field":"t"}}}
]
}
